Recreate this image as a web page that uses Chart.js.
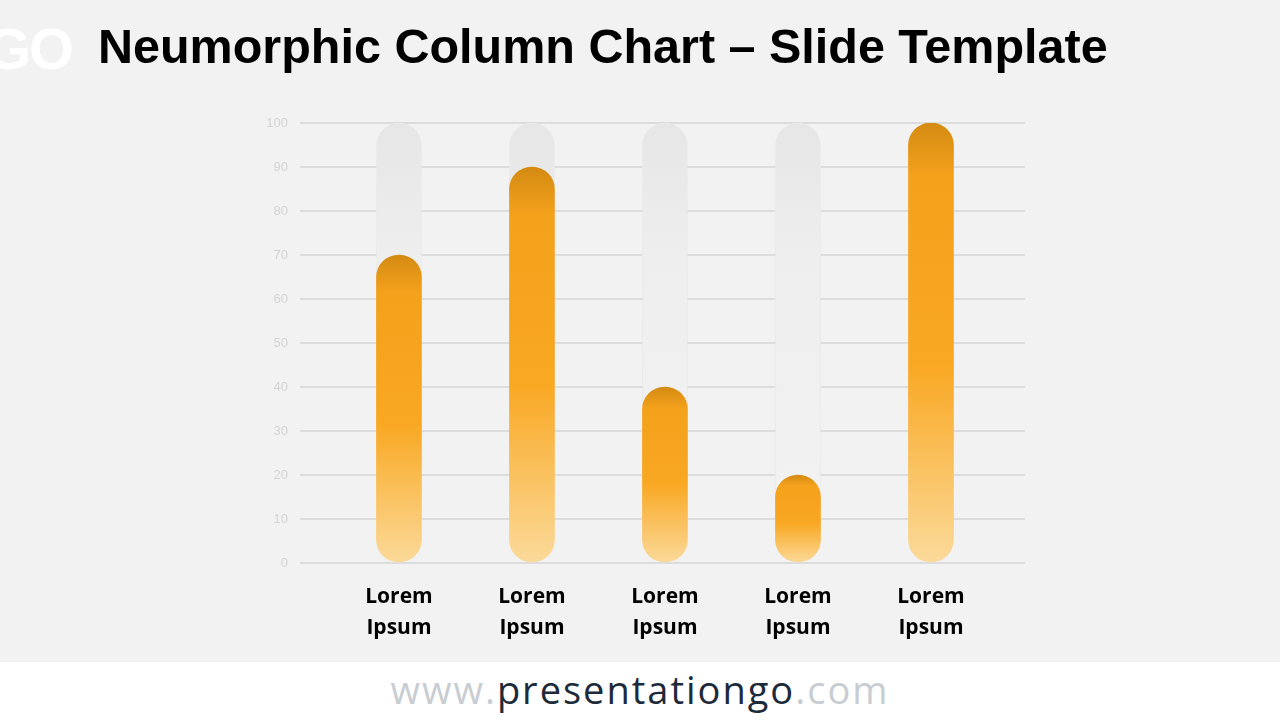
<!DOCTYPE html>
<html><head><meta charset="utf-8">
<script src="https://cdn.jsdelivr.net/npm/chart.js@4"></script>
<style>
html,body{margin:0;padding:0;width:1280px;height:720px;overflow:hidden;background:#f2f2f2;font-family:"Liberation Sans",Arial,sans-serif}
#wrap{position:absolute;left:0;top:0;width:1280px;height:662px}
#title{position:absolute;left:98px;top:18px;font-size:48.5px;font-weight:bold;color:#000;white-space:nowrap}
#logo{position:absolute;left:-14px;top:15px;font-size:58px;font-weight:bold;color:#fff;letter-spacing:-2px}
#footer{position:absolute;left:0;top:662px;width:1280px;height:58px;background:#fff;text-align:center;font-family:"Open Sans",sans-serif;font-size:38px;line-height:54px;letter-spacing:2px;color:#c8cdd2}
#footer b{font-weight:normal;color:#1d2a3a}
</style></head><body>
<div id="wrap"><canvas id="c" width="1280" height="662"></canvas></div>
<div id="logo">GO</div>
<div id="title">Neumorphic Column Chart – Slide Template</div>
<div id="footer">www.<b>presentationgo</b>.com</div>
<script>
const categories = [["Lorem","Ipsum"],["Lorem","Ipsum"],["Lorem","Ipsum"],["Lorem","Ipsum"],["Lorem","Ipsum"]];
const values = [70, 90, 40, 20, 100];
const trackValues = [100, 100, 100, 100, 100];
const yTicks = [0,10,20,30,40,50,60,70,80,90,100];

function orange(ctx){
  const ch = ctx.chart;
  if(!ch.chartArea || !ch.scales.y) return '#F9A51F';
  const y = ch.scales.y;
  const v = values[ctx.dataIndex];
  const top = y.getPixelForValue(v), bot = y.getPixelForValue(0);
  const g = ch.ctx.createLinearGradient(0, top, 0, bot);
  g.addColorStop(0, '#D48B12');
  g.addColorStop(0.12, '#F4A11C');
  g.addColorStop(0.55, '#F9A823');
  g.addColorStop(1, '#FBDA9A');
  return g;
}
function track(ctx){
  const ch = ctx.chart;
  if(!ch.chartArea) return '#eeeeee';
  const g = ch.ctx.createLinearGradient(0, ch.chartArea.top, 0, ch.chartArea.bottom);
  g.addColorStop(0, '#e6e6e6');
  g.addColorStop(0.3, '#eeeeee');
  g.addColorStop(1, '#f3f3f3');
  return g;
}
new Chart(document.getElementById('c'), {
  type: 'bar',
  data: {
    datasets: [
      {data: values.map((v,i)=>({x:i,y:v})), backgroundColor: orange, borderRadius: 23, borderSkipped: false, barThickness: 45, grouped:false, order:0},
      {data: trackValues.map((v,i)=>({x:i,y:v})), backgroundColor: track, borderColor:'#e9e9e9', borderWidth:1, borderRadius: 23, borderSkipped: false, barThickness: 45, grouped:false, order:1}
    ]
  },
  options: {
    responsive:false, animation:false,
    layout:{padding:{left:0,right:255,top:123,bottom:0}},
    plugins:{legend:{display:false}, tooltip:{enabled:false}},
    scales:{
      x:{type:'linear', min:-0.744, max:4.707, offset:false,
        afterFit: s => { s.height = 99; },
        afterBuildTicks: s => { s.ticks = categories.map((c,i)=>({value:i})); },
        grid:{display:false}, border:{display:false},
        ticks:{padding:10, color:'#000', font:{family:'"Open Sans", sans-serif', size:21, weight:'bold', lineHeight:1.5}, autoSkip:false, maxRotation:0,
          callback:(v)=>categories[v]}
      },
      y:{min:0, max:100,
        afterFit: s => { s.width = 300; },
        afterBuildTicks: s => { s.ticks = yTicks.map(v=>({value:v})); },
        grid:{color:'#dcdcdc', lineWidth:2, drawTicks:false}, border:{display:false},
        ticks:{padding:12, color:'#d4d4d4', font:{family:'"Liberation Sans", Arial', size:13}}
      }
    }
  }
});
</script>
</body></html>
